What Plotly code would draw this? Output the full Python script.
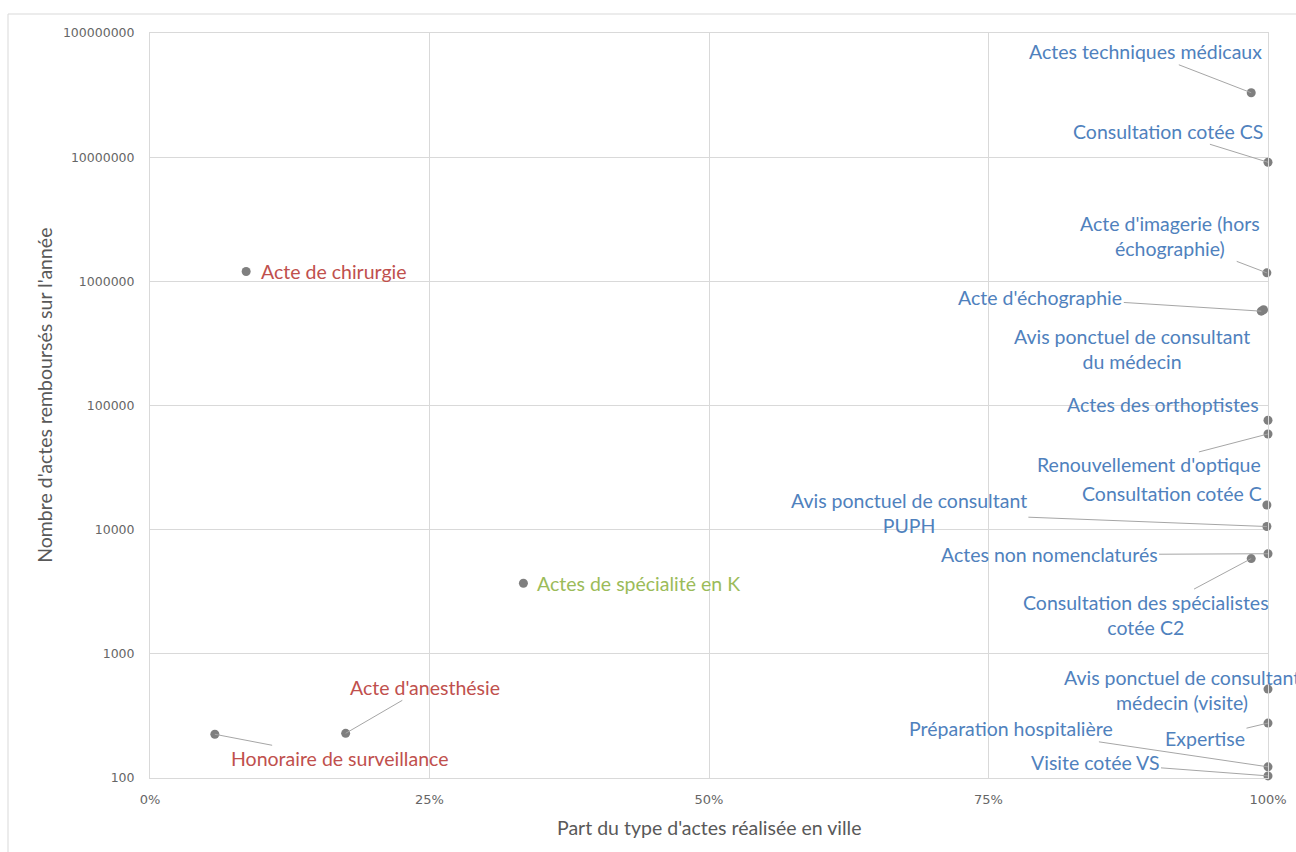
import math
import plotly.graph_objects as go

# ---- data -------------------------------------------------------------
actes = [
    "Actes techniques médicaux",
    "Consultation cotée CS",
    "Acte d'imagerie (hors<br>échographie)",
    "Acte d'échographie",
    "Avis ponctuel de consultant<br>du médecin",
    "Actes des orthoptistes",
    "Renouvellement d'optique",
    "Consultation cotée C",
    "Avis ponctuel de consultant<br>PUPH",
    "Actes non nomenclaturés",
    "Consultation des spécialistes<br>cotée C2",
    "Avis ponctuel de consultant<br>médecin (visite)",
    "Expertise",
    "Préparation hospitalière",
    "Visite cotée VS",
    "Acte de chirurgie",
    "Actes de spécialité en K",
    "Acte d'anesthésie",
    "Honoraire de surveillance",
]
part_ville = [0.985, 1.0, 0.999, 0.994, 0.996, 1.0, 1.0, 0.999, 0.999, 1.0,
              0.985, 1.0, 1.0, 1.0, 1.0, 0.086, 0.334, 0.175, 0.058]
nb_actes = [3.3e7, 9.1e6, 1.17e6, 5.75e5, 5.9e5, 76000, 59000, 15800, 10600, 6400,
            5850, 520, 277, 123, 104, 1.2e6, 3700, 229, 225]
groupe = ["b"] * 15 + ["r", "v", "r", "r"]

y_ticks = [100, 1000, 10000, 100000, 1000000, 10000000, 100000000]
x_ticks = [0, 0.25, 0.5, 0.75, 1.0]
x_ticktext = ["0%", "25%", "50%", "75%", "100%"]

# ---- label placement (pixel offset from the point, leader line on/off) --
label_pos = {
    "Actes techniques médicaux": (-106, -41, True),
    "Consultation cotée CS": (-100, -31, True),
    "Acte d'imagerie (hors<br>échographie)": (-97, -37, True),
    "Acte d'échographie": (-221, -14, True),
    "Avis ponctuel de consultant<br>du médecin": (-132, 39, False),
    "Actes des orthoptistes": (-105, -16, False),
    "Renouvellement d'optique": (-119, 31, True),
    "Consultation cotée C": (-95, -12, False),
    "Avis ponctuel de consultant<br>PUPH": (-358, -14, True),
    "Actes non nomenclaturés": (-219, 1, True),
    "Consultation des spécialistes<br>cotée C2": (-105, 56, True),
    "Avis ponctuel de consultant<br>médecin (visite)": (-86, 1, False),
    "Expertise": (-63, 15, True),
    "Préparation hospitalière": (-257, -38, True),
    "Visite cotée VS": (-173, -13, True),
    "Acte de chirurgie": (88, 0, False),
    "Actes de spécialité en K": (115, 0, False),
    "Acte d'anesthésie": (79, -46, True),
    "Honoraire de surveillance": (125, 24, True),
}
couleurs = {"b": "#4F81BD", "r": "#C0504D", "v": "#9BBB59"}

LABEL_FONT = "Lato, 'Open Sans', sans-serif"
TICK_FONT = "'DejaVu Sans', sans-serif"
GRID = "#D9D9D9"

fig = go.Figure()
fig.add_trace(go.Scatter(
    x=part_ville, y=nb_actes, mode="markers",
    marker=dict(color="#7F7F7F", size=9),
    cliponaxis=False, hoverinfo="skip", showlegend=False,
))

annotations = []
for nom, xv, yv, g in zip(actes, part_ville, nb_actes, groupe):
    dx, dy, leader = label_pos[nom]
    # annotations on a log axis are positioned in log10 units
    common = dict(
        x=xv, y=math.log10(yv), xref="x", yref="y", text=nom, align="center",
        font=dict(family=LABEL_FONT, size=19.5, color=couleurs[g]),
    )
    if leader:
        annotations.append(dict(
            **common, showarrow=True, ax=dx, ay=dy, arrowhead=0,
            arrowwidth=1, arrowcolor="#A6A6A6", standoff=0, startstandoff=0,
        ))
    else:
        annotations.append(dict(**common, showarrow=False, xshift=dx, yshift=-dy))

# axis titles
annotations.append(dict(
    text="Part du type d'actes réalisée en ville", xref="paper", yref="paper",
    x=0.5, y=-0.067, showarrow=False, xanchor="center", yanchor="middle",
    font=dict(family=LABEL_FONT, size=19.5, color="#595959"),
))
annotations.append(dict(
    text="Nombre d'actes remboursés sur l'année", xref="paper", yref="paper",
    x=-0.095, y=0.514, showarrow=False, textangle=-90,
    xanchor="center", yanchor="middle",
    font=dict(family=LABEL_FONT, size=19.5, color="#595959"),
))

fig.update_layout(
    width=1296, height=852,
    margin=dict(l=150, r=28, t=33, b=74, autoexpand=False),
    paper_bgcolor="white", plot_bgcolor="white",
    annotations=annotations,
    shapes=[dict(
        type="rect", xref="paper", yref="paper",
        x0=-0.127, x1=1.3, y0=-0.3, y1=1.0255,
        line=dict(color=GRID, width=1), fillcolor="rgba(0,0,0,0)", layer="below",
    )],
    xaxis=dict(
        range=[0, 1], tickvals=x_ticks, ticktext=x_ticktext,
        showgrid=True, gridcolor=GRID, gridwidth=1,
        showline=True, linecolor=GRID, mirror=True, zeroline=False,
        ticks="", ticklabelstandoff=9,
        tickfont=dict(family=TICK_FONT, size=13, color="#666666"),
        automargin=False,
    ),
    yaxis=dict(
        type="log", range=[2, 8], tickvals=y_ticks,
        ticktext=[str(v) for v in y_ticks],
        showgrid=True, gridcolor=GRID, gridwidth=1,
        showline=True, linecolor=GRID, mirror=True, zeroline=False,
        ticks="", ticklabelstandoff=12,
        tickfont=dict(family=TICK_FONT, size=12.5, color="#666666"),
        automargin=False,
    ),
)

fig.write_html("out.html")
